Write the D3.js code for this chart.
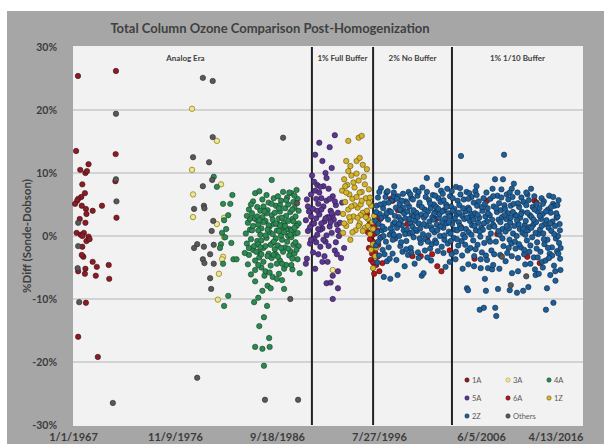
<!DOCTYPE html>
<html>
<head>
<meta charset="utf-8">
<script src="https://cdn.jsdelivr.net/npm/d3@7"></script>
<style>
  html, body { margin: 0; padding: 0; background: #ffffff; }
  svg { display: block; }
  text { font-family: Lato, "Open Sans", sans-serif; }
</style>
</head>
<body>
<svg id="chart" width="604" height="444"></svg>
<script>
// ---- Data: [decimal year, % difference (Sonde - Dobson)] ----
const s1A = [
  [1967.48,25.4],[1971.15,26.2],[1971.12,13.0],[1971.2,2.9],[1967.3,13.5],[1967.7,10.5],
  [1968.5,11.4],[1968.2,10.0],[1968.35,10.3],[1967.9,8.2],[1968.15,6.8],[1967.8,6.2],
  [1967.5,5.9],[1967.4,5.6],[1967.2,5.1],[1967.85,4.8],[1968.25,4.3],[1968.9,4.0],
  [1969.8,4.8],[1968.3,3.5],[1967.65,2.7],[1968.2,2.1],[1967.35,0.5],[1967.75,0.2],
  [1968.05,0.5],[1968.5,-0.1],[1967.9,0.0],[1968.3,-0.8],[1968.6,-0.5],[1967.9,-1.7],
  [1968.0,-3.3],[1967.85,-3.0],[1968.9,-4.1],[1969.3,-4.9],[1970.45,-4.6],[1967.5,-5.6],
  [1968.2,-5.2],[1968.15,-6.0],[1969.2,-6.3],[1970.5,-6.8],[1968.25,-10.6],[1967.5,-16.0],
  [1969.4,-19.2],[1971.1,8.7]
];
const s3A = [
  [1978.5,20.2],[1980.9,15.1],[1978.5,10.5],[1981.3,8.2],[1978.6,6.6],[1978.6,3.0],
  [1981.6,2.9],[1980.9,1.9],[1981.6,-0.2],[1981.5,-3.3],[1981.4,-3.7],[1981.1,-6.0],
  [1981.0,-10.1],[1992.1,-5.4]
];
const s4A = [
  [1980.6,9.4],[1980.9,7.8],[1981.5,5.1],[1982.2,5.1],[1982.0,3.3],[1981.6,2.5],[1981.8,1.1],
  [1981.4,0.5],[1981.7,-0.2],[1982.3,-1.1],[1981.3,-1.3],[1981.2,-1.9],[1981.5,-4.4],
  [1982.5,-3.7],[1982.8,-3.7],[1982.0,-9.5],[1981.6,-11.1],[1982.4,6.5],
  [1983.7,0.4],[1983.8,-1.2],[1983.9,2.1],[1984.0,-3.0],[1984.1,1.0],[1984.2,-0.5],
  [1984.3,3.6],[1984.4,-2.2],[1983.9,-4.5],[1984.2,-6.1],[1984.4,5.5],[1984.0,4.2],
  [1984.5,-1.6],[1983.6,-2.7],
  [1984.6,6.8],[1984.7,2.6],[1984.8,-0.8],[1984.9,1.8],[1985.0,-3.4],[1985.1,0.2],
  [1985.2,-5.0],[1985.3,3.0],[1985.4,-1.9],[1984.6,-7.2],[1984.8,4.6],[1985.0,-2.6],
  [1985.2,1.2],[1985.4,-4.1],[1984.5,-10.5],[1984.9,-9.8],[1985.3,-8.7],[1985.45,-12.9],
  [1985.5,-6.3],[1984.9,0.9],[1985.3,5.8],[1984.6,-3.9],[1985.0,7.1],[1985.75,-11.1],
  [1985.0,-14.3],[1985.95,-16.2],[1984.6,-17.6],[1985.3,-17.9],[1986.0,-17.6],[1985.45,-20.6],
  [1985.6,2.4],[1985.7,-0.3],[1985.8,4.1],[1985.9,-2.8],[1986.0,1.5],[1986.1,-4.7],
  [1986.2,3.3],[1986.3,-1.1],[1986.4,6.0],[1985.6,-5.6],[1985.8,-7.9],[1986.0,0.6],
  [1986.2,-3.5],[1986.4,1.9],[1986.1,-8.3],[1986.3,-6.5],[1985.9,5.3],[1985.7,3.6],
  [1986.5,-2.1],[1986.2,8.9],
  [1986.6,4.8],[1986.7,0.9],[1986.8,-1.5],[1986.9,2.8],[1987.0,-3.9],[1987.1,5.6],
  [1987.2,-0.6],[1987.3,1.4],[1987.4,-5.2],[1986.6,-2.9],[1986.8,6.3],[1987.0,3.9],
  [1987.2,-7.0],[1987.4,2.2],[1986.7,-4.4],[1987.1,0.1],[1987.3,7.0],[1986.9,-6.0],
  [1987.5,4.4],[1987.4,-8.4],
  [1987.6,3.2],[1987.7,-0.9],[1987.8,5.0],[1987.9,1.1],[1988.0,-2.4],[1988.1,6.8],
  [1988.2,2.7],[1988.3,-1.4],[1988.4,4.5],[1988.5,0.4],[1988.6,7.3],[1988.7,-3.7],
  [1988.8,2.0],[1987.6,-4.6],[1987.8,0.0],[1988.0,3.8],[1988.2,-5.3],[1988.4,-2.8],
  [1988.6,1.6],[1987.7,6.1],[1988.1,-0.2],[1988.3,5.4],[1988.9,-5.9],[1988.7,5.9],
  [1988.5,3.1],[1987.9,-3.1],
  [1984.3,0.9],[1984.5,2.8],[1984.9,-1.3],[1985.2,-0.7],[1985.6,0.1],[1985.9,1.7],
  [1986.3,2.6],[1986.6,-0.4],[1986.9,0.8],[1987.2,2.9],[1987.5,-1.8],[1987.8,-2.0],
  [1988.1,0.9],[1988.4,1.3],[1988.7,0.5],[1985.4,2.2],[1986.1,-1.4],[1986.8,1.9],
  [1987.6,1.0],[1988.2,4.2],[1984.7,-2.5],[1985.8,-3.2],[1986.5,3.7],[1987.3,-2.5],
  [1988.5,-1.0],[1984.1,2.7],[1985.1,4.0],[1986.4,-3.0],[1987.0,1.7],[1988.8,-1.6],
  [1983.8,3.2],[1984.0,-1.9],[1984.2,5.0],[1984.4,1.6],[1984.6,-5.4],[1984.8,3.1],
  [1985.0,2.5],[1985.2,-2.9],[1985.4,4.7],[1985.6,-1.6],[1985.8,1.0],[1986.0,-5.8],
  [1986.2,5.1],[1986.4,-0.9],[1986.6,2.0],[1986.8,-3.3],[1987.0,4.9],[1987.2,-4.4],
  [1987.4,0.6],[1987.6,5.7],[1987.8,2.4],[1988.0,0.2],[1988.2,-3.6],[1988.4,6.4],
  [1988.6,-2.2],[1988.8,4.0],[1985.1,-1.8],[1985.7,6.5],[1986.3,0.3],[1986.9,4.4],
  [1987.5,1.6],[1988.1,-4.6],[1984.9,-4.6],[1985.5,3.9],[1986.7,-6.8],[1987.9,6.9],
  [1988.3,2.3],[1987.1,-1.9]
];
const s5A = [
  [1990.8,14.8],[1991.8,14.1],[1992.3,16.0],[1991.1,11.9],[1991.4,10.0],[1992.0,10.8],
  [1991.5,9.2],[1990.6,8.1],[1990.4,12.9],
  [1990.7,-2.9],[1991.1,-4.1],[1991.6,-4.1],[1990.4,-5.2],[1992.1,-6.3],[1991.5,-7.5],
  [1992.6,-8.3],[1992.1,-10.0],[1992.6,-5.6],[1993.2,-1.9],[1991.9,-7.4],
  [1989.5,2.5],[1989.6,5.8],[1989.7,0.8],[1989.8,3.9],[1989.9,-1.2],[1990.0,6.6],
  [1990.1,1.9],[1990.2,4.3],[1990.3,-0.4],[1990.4,7.2],[1990.5,2.8],[1990.6,0.2],
  [1990.7,5.1],[1990.8,3.4],[1990.9,-1.7],[1991.0,6.0],[1991.1,1.2],[1991.2,4.7],
  [1991.3,2.3],[1991.4,-0.9],[1991.5,5.6],[1991.6,3.0],[1991.7,7.5],[1991.8,1.5],
  [1991.9,4.0],[1992.0,0.5],[1992.1,6.3],[1992.2,2.6],[1992.3,-2.3],[1992.4,4.9],
  [1992.5,1.8],[1992.6,3.7],[1992.7,0.0],[1992.8,2.1],[1993.0,5.3],[1989.6,-3.6],
  [1990.0,3.1],[1990.3,8.6],[1990.6,4.0],[1990.9,1.0],[1991.2,7.9],[1991.5,0.1],
  [1991.8,5.9],[1992.1,3.3],[1992.4,-1.0],[1990.2,-2.6],[1990.8,6.9],[1991.3,-3.2],
  [1992.9,-3.5],[1989.9,1.4],[1991.0,2.0],[1990.5,-1.0],[1991.7,2.9],[1990.1,9.6],
  [1989.5,-4.4],
  [1990.0,-0.6],[1990.3,2.0],[1990.7,1.1],[1991.0,4.2],[1991.4,2.8],[1991.7,-1.6],
  [1992.0,3.6],[1992.3,5.5],[1992.6,0.9],[1990.5,5.9],[1991.2,-0.6],[1991.9,2.2],
  [1990.9,7.8],[1992.5,-2.9],[1989.7,4.7]
];
const s6A = [
  [1995.4,3.5],[1995.5,0.6],[1995.6,-1.9],[1995.7,2.0],[1995.8,-3.8],[1995.9,0.1],
  [1996.0,-0.9],[1996.1,1.6],[1996.2,-2.6],[1996.3,-4.6],[1996.4,0.9],[1996.5,-1.4],
  [1996.6,-5.6],[1996.7,2.7],[1995.9,-2.8],[1996.2,0.4],[1996.5,3.1],[1995.7,-0.5],
  [1996.0,-4.2],[1996.4,-3.3],[1996.8,-0.2],[1996.1,-6.0],
  [1997.7,5.9],[1997.9,5.6],[1999.3,1.9],[1999.8,-3.2],[1996.9,-4.3],[2002.1,2.7],
  [2002.2,-4.8],[2002.6,-5.6],[2007.0,5.6],[2011.6,5.6],[2011.8,5.3],[2008.0,0.3],
  [2010.9,-3.3],[2012.1,-4.3],[2000.6,-3.2],[2001.2,-0.5],[2001.7,-2.9],[1998.4,4.1],
  [2003.4,-2.3],[2004.5,1.4],[2005.8,-3.6]
];
const s1Z = [
  [1994.6,15.6],[1993.4,11.9],[1994.4,11.9],[1994.7,12.4],[1995.0,11.3],[1993.8,11.1],
  [1993.6,15.1],[1994.9,15.9],
  [1993.0,7.2],[1993.1,3.5],[1993.2,9.0],[1993.3,5.4],[1993.4,1.6],[1993.5,8.1],
  [1993.6,4.2],[1993.7,6.6],[1993.8,2.4],[1993.9,9.6],[1994.0,5.9],[1994.1,3.1],
  [1994.2,7.7],[1994.3,0.9],[1994.4,6.2],[1994.5,4.5],[1994.6,8.8],[1994.7,2.0],
  [1994.8,5.0],[1994.9,7.0],[1995.0,3.7],[1995.1,9.4],[1995.2,1.3],[1995.3,6.0],
  [1995.4,4.0],[1995.5,2.7],[1995.6,7.4],[1995.7,0.3],[1995.8,4.8],[1995.9,2.2],
  [1996.0,-1.3],[1996.1,3.2],[1993.2,2.0],[1993.6,10.3],[1994.0,0.6],[1994.4,9.9],
  [1994.8,3.3],[1995.2,8.2],[1995.6,5.3],[1996.0,1.1],[1993.4,6.9],[1994.2,4.9],
  [1995.0,0.8],[1995.8,-2.2],[1996.2,-3.2],[1996.0,-5.1],[1993.1,0.5],[1993.8,-0.6],
  [1995.4,10.6],[1994.6,1.6],[1996.3,-1.9],
  [1993.3,7.9],[1993.7,3.0],[1994.1,8.5],[1994.5,2.9],[1994.9,5.6],[1995.3,3.0],
  [1995.7,6.1],[1993.9,4.7],[1994.7,6.9],[1995.5,1.6]
];
const s2Z = [
  [1996.22,2.4],[1996.28,-1.5],[1996.33,4.8],[1996.41,0.6],[1996.47,6.1],[1996.53,1.9],[1996.58,-3.1],[1996.64,3.5],[1996.69,-0.3],
  [1996.76,7.6],[1996.81,2.9],[1996.86,0.9],[1996.92,-2.2],[1996.97,4.4],[1997.03,-6.5],[1997.08,5.2],[1997.13,1.1],[1997.18,3.2],
  [1997.24,-0.9],[1997.29,6.9],[1997.34,-4.0],[1997.4,7.1],[1997.45,2.6],[1997.5,-1.8],[1997.56,4.0],[1997.61,0.2],[1997.66,-6.8],
  [1997.72,3.8],[1997.77,5.6],[1997.83,0.7],[1997.88,-2.8],[1997.93,1.9],[1997.99,6.3],[1998.04,7.9],[1998.09,2.2],[1998.15,-0.4],[1998.2,4.5],
  [1998.25,-3.8],[1998.31,1.3],[1998.36,-6.2],[1998.41,6.3],[1998.47,3.0],[1998.52,0.0],[1998.57,5.1],[1998.63,-1.6],[1998.68,2.5],
  [1998.73,4.0],[1998.79,1.7],[1998.84,-2.5],[1998.89,6.7],[1998.95,0.9],[1999.0,3.6],[1999.05,-4.8],[1999.11,2.8],[1999.16,5.5],
  [1999.21,-0.8],[1999.27,1.0],[1999.32,3.9],[1999.37,-3.0],[1999.43,7.0],[1999.48,4.7],[1999.53,0.4],[1999.59,2.1],[1999.64,-1.9],[1999.69,6.0],
  [1999.75,3.3],[1999.8,1.5],[1999.85,5.8],[1999.91,-0.2],[1999.96,3.1],[2000.01,-4.4],[2000.07,2.4],[2000.12,7.3],[2000.17,3.7],
  [2000.23,0.8],[2000.28,6.4],[2000.33,-2.6],[2000.39,2.0],[2000.44,4.9],[2000.49,5.3],[2000.55,1.2],[2000.6,-1.1],[2000.65,3.4],[2000.7,-6.3],
  [2000.76,7.7],[2000.81,0.3],[2000.87,-5.9],[2000.92,2.9],[2000.97,4.2],[2001.03,-0.5],[2001.08,6.2],[2001.13,1.6],[2001.19,9.2],
  [2001.24,-3.4],[2001.29,3.9],[2001.35,0.1],[2001.4,5.7],[2001.45,2.3],[2001.51,-2.0],[2001.56,4.4],[2001.61,1.4],[2001.67,-1.3],
  [2001.72,3.0],[2001.77,6.5],[2001.83,2.6],[2001.88,5.0],[2001.93,0.6],[2001.99,-0.7],[2002.04,3.8],[2002.09,4.6],[2002.15,1.8],[2002.2,8.1],
  [2002.25,-2.4],[2002.31,6.0],[2002.36,2.9],[2002.41,3.5],[2002.47,0.0],[2002.52,5.4],[2002.57,7.2],[2002.6,8.9],[2002.63,-1.7],[2002.68,2.2],
  [2002.73,6.7],[2002.79,1.3],[2002.84,4.1],[2002.89,-0.6],[2002.95,2.8],[2003.0,-4.9],[2003.05,5.0],[2003.11,2.0],[2003.16,7.5],
  [2003.21,-1.2],[2003.27,3.6],[2003.32,0.7],[2003.37,3.1],[2003.43,6.3],[2003.48,0.4],[2003.53,4.7],[2003.59,-2.9],[2003.64,1.9],
  [2003.69,6.0],[2003.75,2.5],[2003.8,-0.3],[2003.85,4.3],[2003.91,1.0],[2003.96,-3.7],[2004.01,7.8],[2004.07,3.4],[2004.12,0.9],[2004.17,5.6],
  [2004.23,-1.5],[2004.28,2.2],[2004.33,4.9],[2004.39,1.6],[2004.44,6.6],[2004.49,12.7],[2004.55,-0.8],[2004.6,3.2],[2004.65,-5.2],[2004.7,0.2],
  [2004.76,5.8],[2004.81,2.7],[2004.87,-0.2],[2004.92,3.9],[2004.97,1.1],[2005.03,7.0],[2005.07,-8.3],[2005.13,-2.3],[2005.17,-8.6],[2005.19,4.5],
  [2005.24,0.6],[2005.29,6.8],[2005.35,2.4],[2005.4,-1.9],[2005.45,3.5],[2005.51,6.2],[2005.56,1.7],[2005.61,3.0],[2005.67,-0.7],
  [2005.72,5.3],[2005.75,-4.8],[2005.77,-3.2],[2005.83,3.6],[2005.88,7.1],[2005.93,0.9],[2005.99,7.9],[2006.04,4.8],[2006.09,-1.4],[2006.15,2.1],
  [2006.2,5.5],[2006.25,2.9],[2006.3,-11.7],[2006.36,-0.1],[2006.4,-5.1],[2006.45,1.3],[2006.51,-2.6],[2006.56,4.0],[2006.61,1.0],[2006.67,6.0],[2006.7,-11.4],
  [2006.74,-1.1],[2006.8,-6.8],[2006.85,3.1],[2006.9,-8.7],[2006.95,6.9],[2007.01,2.3],[2007.06,4.4],[2007.1,-5.1],[2007.15,-0.4],
  [2007.22,1.4],[2007.27,3.3],[2007.33,5.9],[2007.38,0.4],[2007.43,-2.3],[2007.5,-5.3],[2007.54,7.5],[2007.6,1.8],[2007.65,4.7],
  [2007.72,1.5],[2007.78,9.0],[2007.8,-11.4],[2007.86,-0.9],[2007.9,-12.7],[2007.96,3.8],[2008.02,6.4],[2008.07,-8.4],[2008.12,2.6],[2008.17,5.2],
  [2008.23,0.2],[2008.28,-3.0],[2008.34,4.1],[2008.39,6.1],[2008.45,3.0],[2008.5,1.1],[2008.55,9.0],[2008.6,-1.6],[2008.65,12.9],[2008.69,4.9],
  [2008.75,4.3],[2008.8,0.7],[2008.86,2.7],[2008.91,6.6],[2008.96,-2.7],[2009.02,3.6],[2009.07,5.8],[2009.13,1.2],[2009.18,-0.6],[2009.2,-8.6],
  [2009.25,2.1],[2009.3,4.8],[2009.36,-1.2],[2009.4,7.5],[2009.42,-5.9],[2009.47,6.2],[2009.52,0.4],[2009.58,5.1],[2009.6,8.3],[2009.65,1.6],
  [2009.7,3.4],[2009.76,-2.0],[2009.82,3.2],[2009.87,0.0],[2009.9,-9.0],[2009.95,6.9],[2010.0,-3.5],[2010.06,1.9],[2010.11,4.6],[2010.17,1.1],
  [2010.22,2.9],[2010.27,-1.8],[2010.33,6.1],[2010.38,3.8],[2010.43,0.5],[2010.5,-8.7],[2010.54,5.4],[2010.59,-2.9],[2010.65,1.7],[2010.7,-4.5],
  [2010.75,2.4],[2010.8,4.9],[2010.86,-0.7],[2010.91,6.6],[2010.97,0.9],[2011.0,-8.1],[2011.05,5.7],[2011.1,1.4],[2011.15,3.3],[2011.2,-1.5],
  [2011.26,7.5],[2011.31,3.0],[2011.37,-0.2],[2011.42,4.6],[2011.48,1.8],[2011.53,-3.4],[2011.58,6.3],[2011.64,-5.3],[2011.7,-6.2],
  [2011.74,2.2],[2011.8,5.1],[2011.85,-1.0],[2011.9,3.9],[2011.96,0.3],[2012.01,-6.0],[2012.07,4.4],[2012.12,1.0],[2012.17,-2.5],
  [2012.23,2.7],[2012.28,6.0],[2012.34,-4.1],[2012.39,3.5],[2012.44,0.4],[2012.5,5.5],[2012.55,-1.3],[2012.6,1.9],[2012.66,-3.9],[2012.7,-11.7],
  [2012.75,2.5],[2012.8,-8.3],[2012.84,-0.6],[2012.9,4.2],[2012.95,1.3],[2013.01,6.4],[2013.06,-2.8],[2013.12,-6.2],[2013.17,3.7],
  [2013.22,0.8],[2013.28,-1.8],[2013.33,2.3],[2013.38,5.1],[2013.4,6.2],[2013.42,-10.6],[2013.48,-4.7],[2013.53,4.8],[2013.58,1.6],[2013.62,-7.1],[2013.66,-0.4],
  [2013.72,2.9],[2013.77,-2.4],[2013.82,3.1],[2013.87,0.0],[2013.92,5.7],[2013.97,-1.1],[2014.02,1.9],[2014.07,-3.6],[2014.1,-5.4],[2014.12,-1.9],
  [1996.3,3.8],[1996.5,-0.9],[1996.7,5.0],[1996.9,1.5],[1997.1,-2.9],[1997.3,3.6],[1997.5,5.3],[1997.7,1.2],[1997.9,-0.6],[1998.1,3.2],
  [1998.3,5.9],[1998.5,1.9],[1998.7,-1.0],[1998.9,4.5],[1999.1,0.3],[1999.3,5.2],[1999.5,2.7],[1999.7,-2.6],[1999.9,4.1],[2000.1,1.0],
  [2000.3,3.0],[2000.5,-0.4],[2000.7,4.6],[2000.9,1.9],[2001.1,3.3],[2001.3,-0.9],[2001.5,5.2],[2001.7,1.0],[2001.9,3.6],[2002.1,-1.1],
  [2002.3,4.3],[2002.5,1.5],[2002.7,3.9],[2002.9,0.1],[2003.1,4.6],[2003.3,2.2],[2003.5,-0.8],[2003.7,4.0],[2003.9,2.8],[2004.1,-0.5],
  [2004.3,3.7],[2004.5,1.2],[2004.7,4.4],[2004.9,-1.4],[2005.1,2.9],[2005.3,4.2],[2005.5,0.2],[2005.7,2.6],[2005.9,-2.1],[2006.1,3.4],
  [2006.3,0.7],[2006.5,4.6],[2006.7,2.0],[2006.9,-3.1],[2007.1,3.6],[2007.3,-0.9],[2007.5,2.6],[2007.7,-2.9],[2007.9,4.4],[2008.1,0.8],
  [2008.3,2.2],[2008.5,-0.4],[2008.7,3.3],[2008.9,1.6],[2009.1,-1.9],[2009.3,2.9],[2009.5,3.8],[2009.7,-0.9],[2009.9,2.5],[2010.1,-1.3],
  [2010.3,3.5],[2010.5,1.2],[2010.7,0.2],[2010.9,3.7],[2011.1,-2.5],[2011.3,1.3],[2011.5,2.6],[2011.7,0.5],[2011.9,-3.4],[2012.1,3.2],
  [2012.3,1.6],[2012.5,-0.5],[2012.7,3.9],[2012.9,-1.9],[2013.1,2.0],[2013.3,-3.1],[2013.5,0.3],[2013.7,3.6],[2013.9,-2.8],[2014.05,0.9],
  [1996.4,-4.2],[1997.0,0.0],[1997.6,-3.6],[1998.0,0.2],[1998.6,4.2],[1999.2,-2.1],[1999.8,0.6],[2000.4,-3.5],[2001.0,-2.3],[2001.6,-3.9],
  [2002.2,0.9],[2002.8,-2.7],[2003.4,-4.1],[2004.0,-2.5],[2004.6,-3.1],[2005.2,-4.5],[2005.8,1.6],[2006.4,-3.7],[2007.0,-3.8],[2007.6,-4.6],
  [2008.2,-5.2],[2008.8,-4.0],[2009.4,-3.2],[2010.0,-5.6],[2010.6,-2.2],[2011.2,-4.4],[2011.8,-2.0],[2012.4,-5.0],[2013.0,-3.5],[2013.6,-5.6],
  [1996.6,7.0],[1997.2,6.2],[1998.0,6.9],[1998.8,5.6],[1999.6,6.6],[2000.4,7.0],[2001.2,7.0],[2002.0,6.4],[2002.8,5.7],[2003.6,7.1],
  [2004.4,7.6],[2005.2,5.9],[2006.0,6.5],[2006.8,5.1],[2007.6,6.3],[2008.4,7.4],[2009.2,6.9],[2010.0,5.2],[2010.8,6.9],[2011.6,4.2],
  [2012.4,5.1],[2013.2,4.6],[2013.8,4.9]
];
const sOthers = [
  [1971.15,19.4],[1971.15,9.0],[1971.2,5.5],[1967.5,2.1],[1967.5,-1.6],[1967.45,-5.1],
  [1967.6,-10.5],[1970.85,-26.5],
  [1979.55,25.1],[1980.5,24.6],[1980.5,15.7],[1978.6,12.5],[1980.15,11.7],[1980.45,8.9],
  [1979.55,7.9],[1978.7,4.3],[1979.65,4.8],[1979.7,4.4],[1980.55,2.4],[1980.4,0.8],
  [1979.0,-1.3],[1978.7,-1.9],[1979.65,-1.7],[1980.6,-1.4],[1980.25,-2.9],[1979.55,-3.7],
  [1979.7,-4.3],[1980.6,-4.4],[1980.25,-6.7],[1980.35,-8.4],[1979.0,-22.5],[1987.3,15.6],
  [1988.0,-10.0],[1988.65,5.2],[1985.55,-26.0],[1988.75,-26.0],
  [2008.45,-3.3],[2009.3,-7.8],[2010.8,-6.4]
];

// Axis ticks and annotation labels
const yTicks = [-30, -20, -10, 0, 10, 20, 30];
const xTickLabels = ["1/1/1967", "11/9/1976", "9/18/1986", "7/27/1996", "6/5/2006", "4/13/2016"];
const eraBreaks = ["2/1/1990", "1/1/1996", "8/15/2003"];
const eraLabels = ["Analog Era", "1% Full Buffer", "2% No Buffer", "1% 1/10 Buffer"];

const seriesNames = ["1A", "3A", "4A", "5A", "6A", "1Z", "2Z", "Others"];
const seriesData = [s1A, s3A, s4A, s5A, s6A, s1Z, s2Z, sOthers];
const seriesFill = ["#8c1c24", "#ece6a2", "#2b8a52", "#5b3690", "#b3171c", "#d6b42a", "#1f5f98", "#585858"];
const seriesStroke = ["#3a1014", "#a8982a", "#173f28", "#2a1a45", "#4a0c0c", "#5e4c10", "#0e2c48", "#2a2a2a"];

// ---- Layout ----
const W = 604, H = 444;
const plot = { left: 73, right: 583, top: 47, bottom: 425 };
const svg = d3.select("#chart");

const parseDate = d3.timeParse("%m/%d/%Y");
function yearToDate(y) {
  const yr = Math.floor(y);
  const a = new Date(yr, 0, 1), b = new Date(yr + 1, 0, 1);
  return new Date(+a + (y - yr) * (b - a));
}

const xTickDates = xTickLabels.map(parseDate);
const x = d3.scaleTime()
  .domain([xTickDates[0], xTickDates[xTickDates.length - 1]])
  .range([plot.left, plot.right]);
const y = d3.scaleLinear().domain([-30, 30]).range([plot.bottom, plot.top]);

// chart background
svg.append("rect").attr("x", 0).attr("y", 0).attr("width", W).attr("height", H).attr("fill", "#ffffff");
svg.append("rect").attr("x", 7).attr("y", 11).attr("width", W - 7).attr("height", H - 11).attr("fill", "#a6a6a6");

// plot area
svg.append("rect")
  .attr("x", plot.left).attr("y", plot.top - 1)
  .attr("width", plot.right - plot.left).attr("height", plot.bottom - plot.top + 2)
  .attr("fill", "#f2f2f2");

// horizontal gridlines
svg.append("g")
  .selectAll("line")
  .data(yTicks.filter(t => t > -30 && t < 30))
  .join("line")
  .attr("x1", plot.left).attr("x2", plot.right)
  .attr("y1", d => y(d)).attr("y2", d => y(d))
  .attr("stroke", "#c9c9c9").attr("stroke-width", 1.5);

// y axis labels
const yAxis = d3.axisLeft(y).tickValues(yTicks).tickSize(0).tickPadding(0)
  .tickFormat(d => d + "%");
svg.append("g")
  .attr("transform", `translate(${plot.left - 16},0)`)
  .call(yAxis)
  .call(g => g.select(".domain").remove())
  .selectAll("text")
  .attr("font-family", "Lato, 'Open Sans', sans-serif")
  .attr("font-size", 10.5).attr("font-weight", 700).attr("fill", "#3c3c3c");

// x axis labels (the last one is kept inside the chart's right edge)
const xAxis = d3.axisBottom(x).tickValues(xTickDates).tickSize(0).tickPadding(0)
  .tickFormat((d, i) => xTickLabels[i]);
svg.append("g")
  .attr("transform", `translate(0,${plot.bottom + 8})`)
  .call(xAxis)
  .call(g => g.select(".domain").remove())
  .selectAll("text")
  .attr("font-family", "Lato, 'Open Sans', sans-serif")
  .attr("font-size", 11).attr("font-weight", 700).attr("fill", "#3c3c3c")
  .attr("text-anchor", (d, i) => i === xTickLabels.length - 1 ? "end" : "middle");

// era boundaries
const breakDates = eraBreaks.map(parseDate);
svg.append("g")
  .selectAll("line")
  .data(breakDates)
  .join("line")
  .attr("x1", d => x(d)).attr("x2", d => x(d))
  .attr("y1", plot.top).attr("y2", plot.bottom)
  .attr("stroke", "#222222").attr("stroke-width", 2);

// era labels, centred in each span
const edges = [x.domain()[0], ...breakDates, x.domain()[1]];
svg.append("g")
  .selectAll("text")
  .data(eraLabels)
  .join("text")
  .attr("x", (d, i) => (x(edges[i]) + x(edges[i + 1])) / 2 - (i === 0 ? 7 : 0))
  .attr("y", 61)
  .attr("text-anchor", "middle")
  .attr("font-size", 8).attr("font-weight", 700).attr("fill", "#404040")
  .text(d => d);

// scatter points
const pts = svg.append("g");
seriesData.forEach((data, si) => {
  pts.append("g")
    .selectAll("circle")
    .data(data)
    .join("circle")
    .attr("cx", d => x(yearToDate(d[0])))
    .attr("cy", d => y(d[1]))
    .attr("r", 2.7)
    .attr("fill", seriesFill[si])
    .attr("stroke", seriesStroke[si])
    .attr("stroke-width", si === 1 ? 1 : 0.6);
});

// legend
const legend = svg.append("g");
seriesNames.forEach((name, i) => {
  const lx = 467 + (i % 3) * 41;
  const ly = 380 + Math.floor(i / 3) * 18;
  legend.append("circle").attr("cx", lx).attr("cy", ly).attr("r", 2.2)
    .attr("fill", seriesFill[i]).attr("stroke", seriesStroke[i]).attr("stroke-width", 0.5);
  legend.append("text").attr("x", lx + 5).attr("y", ly + 2.6)
    .attr("font-size", 7.5).attr("fill", "#595959").text(name);
});

// title
svg.append("text")
  .attr("x", 270).attr("y", 33)
  .attr("text-anchor", "middle")
  .attr("font-size", 13).attr("font-weight", 700).attr("fill", "#404040")
  .text("Total Column Ozone Comparison Post-Homogenization");

// y axis title
svg.append("text")
  .attr("transform", `translate(31,${(plot.top + plot.bottom) / 2}) rotate(-90)`)
  .attr("text-anchor", "middle")
  .attr("font-size", 11.5).attr("font-weight", 700).attr("fill", "#404040")
  .text("%Diff (Sonde-Dobson)");
</script>
</body>
</html>
